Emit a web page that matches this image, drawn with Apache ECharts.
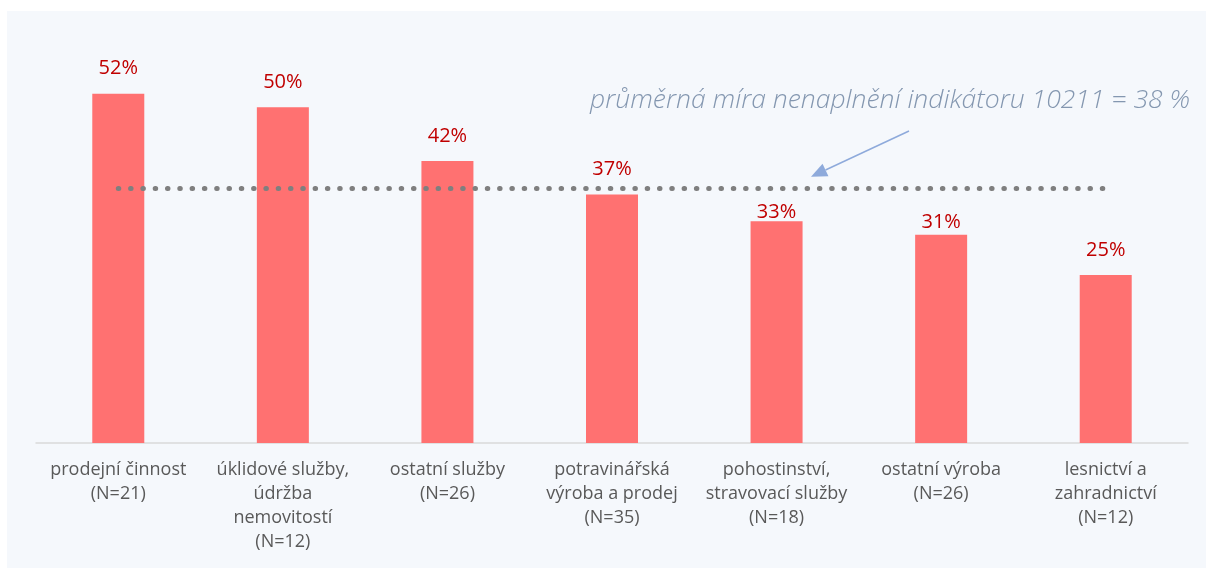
<!DOCTYPE html>
<html>
<head>
<meta charset="utf-8">
<script src="https://cdn.jsdelivr.net/npm/echarts@6/dist/echarts.min.js"></script>
<style>
  html, body { margin: 0; padding: 0; background: #ffffff; }
  #main { width: 1206px; height: 568px; }
</style>
</head>
<body>
<div id="main"></div>
<script>
// kategorie a hodnoty (míra nenaplnění v %)
const categories = [
  'prodejní činnost\n(N=21)',
  'úklidové služby,\núdržba\nnemovitostí\n(N=12)',
  'ostatní služby\n(N=26)',
  'potravinářská\nvýroba a prodej\n(N=35)',
  'pohostinství,\nstravovací služby\n(N=18)',
  'ostatní výroba\n(N=26)',
  'lesnictví a\nzahradnictví\n(N=12)'
]
const values = [52, 50, 42, 37, 33, 31, 25]
const average = 38
const avgText = 'průměrná míra nenaplnění indikátoru 10211 = 38 %'

const chart = echarts.init(document.getElementById('main'))

// popisky u dvou sloupců jsou posunuté blíž ke sloupci (kvůli čáře průměru)
const labelDistance = { 4: -1, 5: 2 }
const barData = values.map((v, i) =>
  labelDistance[i] !== undefined ? { value: v, label: { distance: labelDistance[i] } } : v
)

const option = {
  backgroundColor: '#ffffff',
  animation: false,
  textStyle: { fontFamily: '"Open Sans", sans-serif' },
  grid: { left: 36, right: 18, top: 40, bottom: 125 },
  xAxis: {
    type: 'category',
    data: categories,
    axisTick: { show: false },
    axisLine: { lineStyle: { color: '#d9d9d9', width: 1.5 } },
    axisLabel: {
      interval: 0,
      margin: 15,
      color: '#595959',
      fontSize: 18,
      lineHeight: 24,
      fontFamily: '"Open Sans", sans-serif'
    }
  },
  yAxis: {
    type: 'value',
    min: 0,
    max: 60,
    show: false,
    splitLine: { show: false }
  },
  series: [{
    type: 'bar',
    data: barData,
    barWidth: 52,
    itemStyle: { color: '#ff7171' },
    label: {
      show: true,
      position: 'top',
      distance: 15,
      formatter: '{c}%',
      color: '#c00000',
      fontSize: 20,
      fontFamily: '"Open Sans", sans-serif'
    },
    markLine: {
      silent: true,
      symbol: ['none', 'none'],
      label: { show: false },
      lineStyle: { color: '#7f7f7f', width: 5, type: [0.5, 11.8], cap: 'round' },
      data: [[
        { xAxis: 0, yAxis: average },
        { xAxis: categories.length - 1, yAxis: average }
      ]]
    }
  }]
}

chart.setOption(option)

// šipka a popisek průměru
const tip = chart.convertToPixel({ xAxisIndex: 0, yAxisIndex: 0 }, [4.2, average])
const tipY = tip[1] - 11
const tipX = 811
const startX = 909, startY = 131
const ang = Math.atan2(startY - tipY, startX - tipX)
const hl = 16, hw = 7
const bx = tipX + Math.cos(ang) * hl, by = tipY + Math.sin(ang) * hl
const px = -Math.sin(ang) * hw, py = Math.cos(ang) * hw

chart.setOption({
  graphic: [
    {
      type: 'rect', z: -10, silent: true,
      shape: { x: 7, y: 11, width: 1199, height: 557 },
      style: { fill: '#f5f8fc' }
    },
    {
      type: 'text', silent: true,
      x: 1190, y: 100,
      style: {
        text: avgText,
        fill: '#8497b0',
        font: 'italic 300 26.5px "Open Sans", sans-serif',
        align: 'right',
        verticalAlign: 'middle'
      }
    },
    {
      type: 'line', silent: true,
      shape: { x1: startX, y1: startY, x2: bx, y2: by },
      style: { stroke: '#8eaadb', lineWidth: 1.5 }
    },
    {
      type: 'polygon', silent: true,
      shape: { points: [[tipX, tipY], [bx + px, by + py], [bx - px, by - py]] },
      style: { fill: '#8eaadb' }
    }
  ]
})
</script>
</body>
</html>
